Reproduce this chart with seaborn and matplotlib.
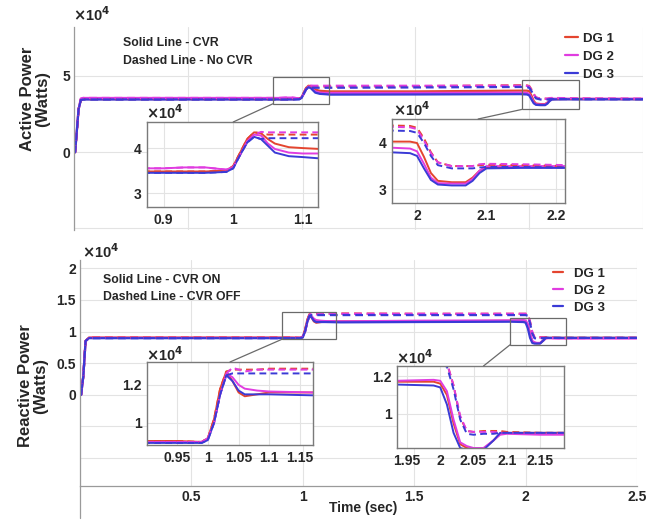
import numpy as np
import pandas as pd
import matplotlib
matplotlib.use("Agg")
import matplotlib.pyplot as plt
import seaborn as sns
from matplotlib.patches import Rectangle, ConnectionPatch
from matplotlib.lines import Line2D

sns.set_theme(style="white")
plt.rcParams['font.family'] = ['Liberation Sans', 'DejaVu Sans']
plt.rcParams['font.weight'] = 'bold'

# ---------------- data (values in x10^4 W) ----------------
t_p = [0, 0.005, 0.02, 0.03, 0.04, 0.9, 0.93, 0.96, 0.99, 1.0, 1.01, 1.02, 1.03, 1.04, 1.05, 1.06, 1.08,
       1.1, 1.125, 1.5, 1.96, 1.99, 2.0, 2.01, 2.02, 2.03, 2.05, 2.07, 2.08, 2.09, 2.1, 2.15, 2.22, 2.5]
p_dg1_cvr = [0, 0, 2.8, 3.45, 3.48, 3.48, 3.48, 3.48, 3.5, 3.6, 3.9, 4.2, 4.35, 4.33, 4.2, 4.1, 4.02,
             4.0, 3.98, 3.98, 4.03, 4.03, 4.0, 3.7, 3.35, 3.18, 3.15, 3.15, 3.25, 3.4, 3.47, 3.48, 3.48, 3.48]
p_dg2_cvr = [0, 0, 2.8, 3.5, 3.55, 3.55, 3.57, 3.57, 3.52, 3.58, 3.85, 4.15, 4.3, 4.28, 4.1, 3.98, 3.9,
             3.88, 3.88, 3.88, 3.9, 3.88, 3.82, 3.55, 3.25, 3.13, 3.12, 3.12, 3.22, 3.4, 3.5, 3.5, 3.5, 3.5]
p_dg3_cvr = [0, 0, 2.8, 3.42, 3.45, 3.45, 3.45, 3.45, 3.47, 3.55, 3.85, 4.12, 4.25, 4.2, 4.05, 3.9, 3.82,
             3.8, 3.77, 3.78, 3.8, 3.78, 3.72, 3.45, 3.2, 3.1, 3.08, 3.08, 3.18, 3.35, 3.45, 3.46, 3.46, 3.46]
p_dg1_nocvr = [0, 0, 2.8, 3.45, 3.48, 3.48, 3.48, 3.48, 3.5, 3.6, 3.9, 4.2, 4.35, 4.33, 4.3, 4.3, 4.3,
               4.3, 4.3, 4.32, 4.38, 4.37, 4.33, 4.1, 3.8, 3.58, 3.5, 3.5, 3.5, 3.52, 3.53, 3.52, 3.5, 3.48]
p_dg2_nocvr = [0, 0, 2.8, 3.5, 3.55, 3.55, 3.57, 3.57, 3.52, 3.58, 3.85, 4.15, 4.3, 4.36, 4.35, 4.35, 4.35,
               4.35, 4.35, 4.35, 4.35, 4.34, 4.3, 4.05, 3.78, 3.58, 3.5, 3.5, 3.5, 3.54, 3.55, 3.54, 3.52, 3.5]
p_dg3_nocvr = [0, 0, 2.8, 3.42, 3.45, 3.45, 3.45, 3.45, 3.47, 3.55, 3.85, 4.12, 4.25, 4.2, 4.22, 4.22, 4.22,
               4.22, 4.22, 4.24, 4.27, 4.26, 4.22, 4.0, 3.72, 3.52, 3.45, 3.45, 3.45, 3.47, 3.48, 3.48, 3.47, 3.46]

t_q = [0, 0.005, 0.015, 0.025, 0.04, 0.9, 0.95, 0.99, 1.0, 1.01, 1.02, 1.03, 1.04, 1.05, 1.06, 1.08,
       1.1, 1.17, 1.5, 1.935, 1.99, 2.0, 2.01, 2.02, 2.03, 2.04, 2.05, 2.065, 2.08, 2.09, 2.1, 2.15, 2.19, 2.5]
q_dg1_on = [0, 0, 0.3, 0.85, 0.905, 0.905, 0.905, 0.9, 0.92, 1.02, 1.18, 1.27, 1.22, 1.16, 1.14, 1.15,
            1.16, 1.16, 1.16, 1.17, 1.17, 1.16, 1.1, 0.95, 0.84, 0.82, 0.815, 0.815, 0.86, 0.895, 0.9, 0.9, 0.9, 0.9]
q_dg2_on = [0, 0, 0.3, 0.85, 0.9, 0.9, 0.9, 0.9, 0.92, 1.0, 1.15, 1.26, 1.24, 1.2, 1.18, 1.17,
            1.165, 1.16, 1.17, 1.175, 1.18, 1.175, 1.12, 0.97, 0.85, 0.83, 0.82, 0.82, 0.86, 0.89, 0.895, 0.89, 0.89, 0.89]
q_dg3_on = [0, 0, 0.3, 0.85, 0.895, 0.895, 0.895, 0.895, 0.91, 1.0, 1.15, 1.25, 1.22, 1.17, 1.15, 1.15,
            1.15, 1.145, 1.15, 1.155, 1.15, 1.14, 1.05, 0.9, 0.82, 0.81, 0.81, 0.81, 0.86, 0.9, 0.9, 0.9, 0.9, 0.9]
q_dg1_off = [0, 0, 0.3, 0.85, 0.905, 0.905, 0.905, 0.9, 0.92, 1.02, 1.18, 1.27, 1.28, 1.28, 1.28, 1.28,
             1.285, 1.285, 1.28, 1.28, 1.28, 1.28, 1.27, 1.15, 0.98, 0.91, 0.905, 0.91, 0.91, 0.91, 0.905, 0.9, 0.9, 0.9]
q_dg2_off = [0, 0, 0.3, 0.85, 0.9, 0.9, 0.9, 0.9, 0.92, 1.0, 1.15, 1.26, 1.29, 1.28, 1.27, 1.28,
             1.28, 1.28, 1.28, 1.28, 1.28, 1.28, 1.27, 1.15, 0.99, 0.91, 0.905, 0.905, 0.905, 0.9, 0.9, 0.895, 0.895, 0.9]
q_dg3_off = [0, 0, 0.3, 0.85, 0.895, 0.895, 0.895, 0.895, 0.91, 1.0, 1.15, 1.25, 1.26, 1.26, 1.26, 1.26,
             1.26, 1.26, 1.26, 1.26, 1.26, 1.26, 1.25, 1.13, 0.97, 0.895, 0.89, 0.895, 0.895, 0.9, 0.9, 0.9, 0.9, 0.9]

dg_names = ["DG 1", "DG 2", "DG 3"]
colors = {"DG 1": "#e4452f", "DG 2": "#e03ce0", "DG 3": "#3a3ad6"}

def build(t, solid, dashed, s_name, d_name):
    rows = []
    for name, vals in zip(dg_names, solid):
        rows.append(pd.DataFrame({"t": t, "v": vals, "DG": name, "mode": s_name}))
    for name, vals in zip(dg_names, dashed):
        rows.append(pd.DataFrame({"t": t, "v": vals, "DG": name, "mode": d_name}))
    return pd.concat(rows, ignore_index=True)

df_p = build(t_p, [p_dg1_cvr, p_dg2_cvr, p_dg3_cvr], [p_dg1_nocvr, p_dg2_nocvr, p_dg3_nocvr], "CVR", "No CVR")
df_q = build(t_q, [q_dg1_on, q_dg2_on, q_dg3_on], [q_dg1_off, q_dg2_off, q_dg3_off], "CVR ON", "CVR OFF")

W, H = 646, 521
fig = plt.figure(figsize=(W / 100, H / 100), dpi=100)

def px_axes(x0, y0, x1, y1):
    return fig.add_axes([x0 / W, 1 - y1 / H, (x1 - x0) / W, (y1 - y0) / H])

def draw(ax, df, modes, lw=1.4):
    for m, ls in zip(modes, ["-", (0, (3.5, 2.2))]):
        sub = df[df["mode"] == m]
        for name in dg_names:
            s = sub[sub["DG"] == name]
            sns.lineplot(data=s, x="t", y="v", ax=ax, color=colors[name], lw=lw,
                         estimator=None, sort=False, legend=False, linestyle=ls)
    ax.set_xlabel("")
    ax.set_ylabel("")

grid_kw = dict(color="#e3e3e3", lw=0.8)
tick_kw = dict(labelsize=10, length=0, pad=3)

def style_main(ax):
    ax.grid(True, **grid_kw)
    for s in ["top", "right"]:
        ax.spines[s].set_visible(False)
    for s in ["left", "bottom"]:
        ax.spines[s].set_color("#9a9a9a")
        ax.spines[s].set_linewidth(0.9)
    ax.tick_params(**tick_kw)
    for lab in ax.get_xticklabels() + ax.get_yticklabels():
        lab.set_fontweight("bold")

def style_inset(ax):
    ax.set_facecolor("white")
    ax.grid(True, **grid_kw)
    for s in ax.spines.values():
        s.set_visible(True)
        s.set_color("#7a7a7a")
        s.set_linewidth(1.0)
    ax.tick_params(labelsize=10, length=0, pad=4)
    for lab in ax.get_xticklabels() + ax.get_yticklabels():
        lab.set_fontweight("bold")

# ---------------- top panel ----------------
ax1 = px_axes(74, 27, 643, 230)
draw(ax1, df_p, ["CVR", "No CVR"], lw=1.6)
ax1.set_xlim(0, 2.5)
ax1.set_ylim(-5.1, 8.2)
ax1.set_xticks([0, 0.5, 1, 1.5, 2, 2.5])
ax1.set_xticklabels([])
ax1.set_yticks([-5, 0, 5])
ax1.set_yticklabels(["", "0", "5"])
style_main(ax1)
ax1.spines["bottom"].set_visible(False)

# ---------------- bottom panel ----------------
ax2 = px_axes(80, 260, 637, 486)
draw(ax2, df_q, ["CVR ON", "CVR OFF"], lw=1.6)
ax2.set_xlim(0, 2.5)
ax2.set_ylim(-1.44, 2.13)
ax2.set_xticks([0, 0.5, 1, 1.5, 2, 2.5])
ax2.set_xticklabels(["", "0.5", "1", "1.5", "2", "2.5"])
ax2.set_yticks([-1, -0.5, 0, 0.5, 1, 1.5, 2])
ax2.set_yticklabels(["", "", "0", "0.5", "1", "1.5", "2"])
style_main(ax2)
# left spine continues a little below the x axis
fig.add_artist(Line2D([80 / W, 80 / W], [1 - 486 / H, 1 - 518 / H], color="#9a9a9a", lw=0.9))

# zoom boxes on main axes
zoom_boxes_p = [((0.874, 3.17), 0.246, 1.76), ((1.968, 2.8), 0.252, 1.9)]
zoom_boxes_q = [((0.908, 0.88), 0.242, 0.43), ((1.93, 0.79), 0.25, 0.42)]
for ax, boxes in [(ax1, zoom_boxes_p), (ax2, zoom_boxes_q)]:
    for xy, w, h in boxes:
        ax.add_patch(Rectangle(xy, w, h, fill=False, ec="#6a6a6a", lw=0.9, zorder=5))

# ---------------- insets ----------------
i1 = px_axes(147, 122, 318, 207)
draw(i1, df_p, ["CVR", "No CVR"], lw=1.4)
i1.set_xlim(0.876, 1.122); i1.set_ylim(2.69, 4.58)
i1.set_xticks([0.9, 1.0, 1.1]); i1.set_xticklabels(["0.9", "1", "1.1"])
i1.set_yticks([3, 4]); i1.set_yticklabels(["3", "4"])
style_inset(i1)

i2 = px_axes(392, 119, 565, 203)
draw(i2, df_p, ["CVR", "No CVR"], lw=1.4)
i2.set_xlim(1.964, 2.213); i2.set_ylim(2.7, 4.52)
i2.set_xticks([2.0, 2.1, 2.2]); i2.set_xticklabels(["2", "2.1", "2.2"])
i2.set_yticks([3, 4]); i2.set_yticklabels(["3", "4"])
style_inset(i2)

i3 = px_axes(147, 362, 313, 445)
draw(i3, df_q, ["CVR ON", "CVR OFF"], lw=1.4)
i3.set_xlim(0.901, 1.171); i3.set_ylim(0.884, 1.32)
i3.set_xticks([0.95, 1.0, 1.05, 1.1, 1.15]); i3.set_xticklabels(["0.95", "1", "1.05", "1.1", "1.15"])
i3.set_yticks([1.0, 1.2]); i3.set_yticklabels(["1", "1.2"])
style_inset(i3)

i4 = px_axes(397, 366, 564, 448)
draw(i4, df_q, ["CVR ON", "CVR OFF"], lw=1.4)
i4.set_xlim(1.935, 2.186); i4.set_ylim(0.82, 1.253)
i4.set_xticks([1.95, 2.0, 2.05, 2.1, 2.15]); i4.set_xticklabels(["1.95", "2", "2.05", "2.1", "2.15"])
i4.set_yticks([1.0, 1.2]); i4.set_yticklabels(["1", "1.2"])
style_inset(i4)

# connector lines
conns = [(ax1, (0.874, 3.17), i1, (1.0, 4.58)),
         (ax1, (1.968, 2.8), i2, (2.088, 4.52)),
         (ax2, (0.908, 0.88), i3, (1.036, 1.32)),
         (ax2, (1.93, 0.79), i4, (2.065, 1.253))]
for axa, pa, axb, pb in conns:
    cp = ConnectionPatch(xyA=pa, coordsA=axa.transData, xyB=pb, coordsB=axb.transData,
                         color="#6a6a6a", lw=0.9)
    fig.add_artist(cp)

def px_text(x, y, s, **kw):
    fig.text(x / W, 1 - y / H, s, **kw)

# x10^4 labels
for (x, y) in [(73, 15), (82, 252), (146, 113), (393, 110), (146, 355), (396, 358)]:
    px_text(x, y, r"$\times$10$^{\mathbf{4}}$", fontsize=10.5, va="center", ha="left", fontweight="bold")

# annotations
px_text(123, 43, "Solid Line - CVR", fontsize=8.8, fontweight="bold", va="center")
px_text(123, 61, "Dashed Line - No CVR", fontsize=8.8, fontweight="bold", va="center")
px_text(103, 280, "Solid Line - CVR ON", fontsize=8.8, fontweight="bold", va="center")
px_text(103, 297, "Dashed Line - CVR OFF", fontsize=8.8, fontweight="bold", va="center")

# y labels
px_text(35, 99, "Active Power\n(Watts)", rotation=90, fontsize=12, fontweight="bold",
        ha="center", va="center", linespacing=1.05)
px_text(33, 386, "Reactive Power\n(Watts)", rotation=90, fontsize=12, fontweight="bold",
        ha="center", va="center", linespacing=1.05)
px_text(363, 508, "Time (sec)", fontsize=10, fontweight="bold", ha="center", va="center")

# legends
handles = [Line2D([0], [0], color=colors[n], lw=1.6) for n in dg_names]
leg1 = ax1.legend(handles, dg_names, loc="upper left",
                  bbox_to_anchor=((553 - 74) / 569, 1 - (21 - 27) / 203),
                  frameon=False, handlelength=1.0, handletextpad=0.4, labelspacing=0.42,
                  prop={"weight": "bold", "size": 9.5})
leg2 = ax2.legend(handles, dg_names, loc="upper left",
                  bbox_to_anchor=((541 - 80) / 557, 1 - (256 - 260) / 226),
                  frameon=False, handlelength=0.8, handletextpad=0.8, labelspacing=0.35,
                  prop={"weight": "bold", "size": 9.5})

fig.savefig("out.png", dpi=100, facecolor="white")
